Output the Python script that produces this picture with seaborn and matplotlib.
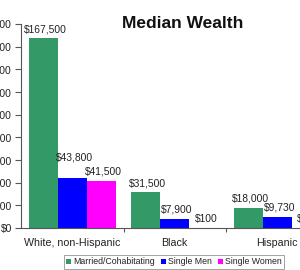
import matplotlib
matplotlib.use('Agg')
import matplotlib.pyplot as plt
import seaborn as sns
import pandas as pd
from matplotlib.patches import Patch

groups = ["White, non-Hispanic", "Black", "Hispanic"]
series = ["Married/Cohabitating", "Single Men", "Single Women"]
married = [167500, 31500, 18000]
single_men = [43800, 7900, 9730]
single_women = [41500, 100, 120]
colors = ["#339966", "#0000FF", "#FF00FF"]
yticks = [0, 20000, 40000, 60000, 80000, 100000, 120000, 140000, 160000, 180000]
title = "Median Wealth"

sns.set_theme(style="white")
plt.rcParams['font.family'] = ['Liberation Sans', 'DejaVu Sans']

values = [married, single_men, single_women]
df = pd.DataFrame({
    "group": [g for s in series for g in groups],
    "series": [s for s in series for g in groups],
    "value": [v for vals in values for v in vals],
})

fig = plt.figure(figsize=(3.0, 2.7), dpi=100)
ax = fig.add_axes([21/300, 42/270, 307.5/300, 204/270])
sns.barplot(data=df, x="group", y="value", hue="series", order=groups,
            hue_order=series, palette=colors, width=0.85, saturation=1,
            errorbar=None, legend=False, linewidth=0, ax=ax)

ax.set_xlim(-0.5, 2.5)
ax.set_ylim(0, 180000)
ax.set_yticks(yticks)
ax.set_yticklabels([f"${v:,.0f}" for v in yticks], fontsize=7.4, color="#222222")
ax.tick_params(axis='y', direction='out', length=4, width=0.8, color='#555555', pad=2.5, left=True)
ax.set_xticks(range(len(groups)))
ax.set_xticklabels(groups, fontsize=7.7, color="#222222")
ax.tick_params(axis='x', which='major', length=0, pad=7.5)
ax.set_xticks([0.5, 1.5], minor=True)
ax.tick_params(axis='x', which='minor', direction='out', length=3, width=0.8, color='#555555', bottom=True)
ax.set_xlabel("")
ax.set_ylabel("")
for side in ["top", "right"]:
    ax.spines[side].set_visible(False)
for side in ["left", "bottom"]:
    ax.spines[side].set_color("#555555")
    ax.spines[side].set_linewidth(0.8)

extra = {(1, 0): 8.5}
for si, cont in enumerate(ax.containers):
    for gi, bar in enumerate(cont):
        v = values[si][gi]
        off = 3.0 + extra.get((si, gi), 0)
        ax.annotate(f"${v:,.0f}", (bar.get_x() + bar.get_width()/2 + 0.02, bar.get_height()),
                    xytext=(0, off), textcoords="offset points", ha="center", va="bottom",
                    fontsize=7.4, color="#222222", annotation_clip=False)

fig.text(183/300, 1 - 23/270, title, ha="center", va="center", fontsize=12.5,
         fontweight="bold", color="#111111")

handles = [Patch(facecolor=c, edgecolor='none') for c in colors]
leg = fig.legend(handles, series, loc="center", bbox_to_anchor=(174/300, 1 - 262/270),
                 ncol=3, fontsize=6.3, frameon=True, fancybox=False, edgecolor="#777777",
                 handlelength=0.6, handleheight=0.6, handletextpad=0.3, columnspacing=0.6,
                 borderpad=0.25, borderaxespad=0)
leg.get_frame().set_linewidth(0.6)
for t in leg.get_texts():
    t.set_color("#222222")

fig.savefig("out.png", dpi=100)
